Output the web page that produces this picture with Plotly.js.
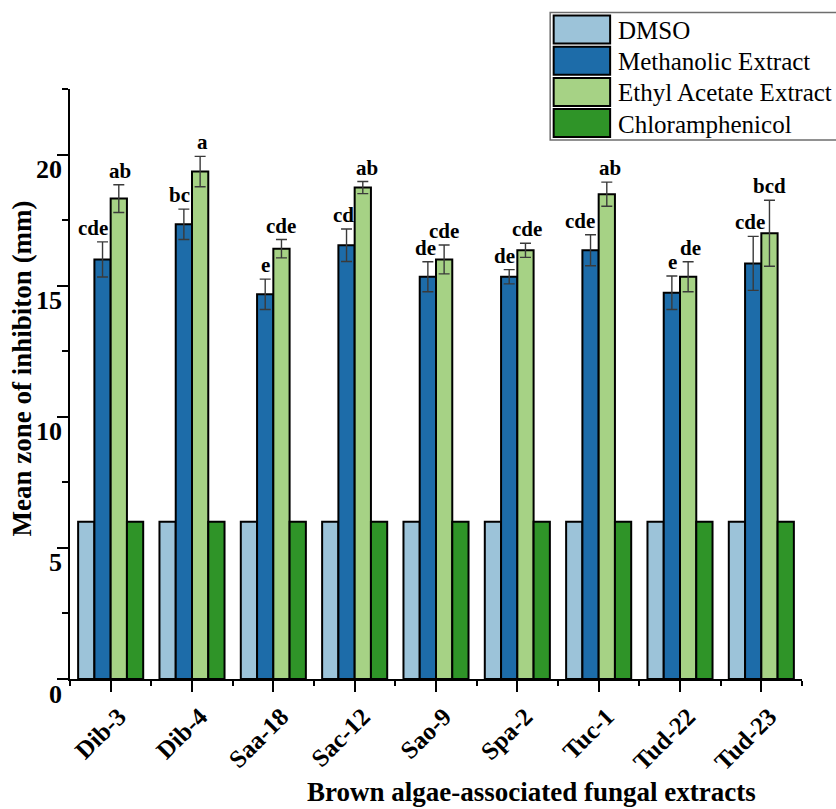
<!DOCTYPE html>
<html>
<head>
<meta charset="utf-8">
<script src="https://cdn.plot.ly/plotly-3.0.1.min.js"></script>
<style>
  html, body { margin: 0; padding: 0; background: #fff; }
  #chart { width: 836px; height: 809px; }
</style>
</head>
<body>
<div id="chart"></div>
<script>
// Fungal isolates
const categories = ['Dib-3', 'Dib-4', 'Saa-18', 'Sac-12', 'Sao-9', 'Spa-2', 'Tuc-1', 'Tud-22', 'Tud-23'];

// Mean zone of inhibition (mm) per treatment
const dmso = [6, 6, 6, 6, 6, 6, 6, 6, 6];
const methanolic = [16.0, 17.34, 14.67, 16.54, 15.34, 15.34, 16.35, 14.73, 15.85];
const methanolicErr = [0.67, 0.58, 0.58, 0.62, 0.57, 0.27, 0.59, 0.64, 1.03];
const ethylAcetate = [18.32, 19.35, 16.41, 18.74, 16.0, 16.35, 18.49, 15.34, 17.0];
const ethylAcetateErr = [0.53, 0.58, 0.35, 0.23, 0.55, 0.27, 0.46, 0.57, 1.26];
const chloramphenicol = [6, 6, 6, 6, 6, 6, 6, 6, 6];

// Significance groups
const methanolicLetters = ['cde', 'bc', 'e', 'cd', 'de', 'de', 'cde', 'e', 'cde'];
const ethylAcetateLetters = ['ab', 'a', 'cde', 'ab', 'cde', 'cde', 'ab', 'de', 'bcd'];

// Y-axis labels
const yTickValues = [0, 5, 10, 15, 20];

const seriesNames = ['DMSO', 'Methanolic Extract', 'Ethyl Acetate Extract', 'Chloramphenicol'];
const seriesColors = ['#9cc3d9', '#1d6ca9', '#a6d285', '#2f9428'];

const serif = 'Liberation Serif, Times New Roman, serif';
const W = 836, H = 809;
const M = { l: 69.5, r: 34, t: 89, b: 129.7 };
const plotW = W - M.l - M.r, plotH = H - M.t - M.b;
const px = v => (v - M.l) / plotW;          // pixel x -> paper x
const py = v => (H - M.b - v) / plotH;      // pixel y -> paper y

const xIdx = categories.map((_, i) => i);

function barTrace(i, values, errs) {
  const t = {
    type: 'bar', name: seriesNames[i], x: xIdx, y: values,
    marker: { color: seriesColors[i], line: { color: '#000', width: 2 } },
    showlegend: false, hoverinfo: 'y'
  };
  if (errs) {
    t.error_y = { type: 'data', array: errs, visible: true, color: '#3a3a3a', thickness: 1.4, width: 5.5 };
  }
  return t;
}

const data = [
  barTrace(0, dmso),
  barTrace(1, methanolic, methanolicErr),
  barTrace(2, ethylAcetate, ethylAcetateErr),
  barTrace(3, chloramphenicol)
];

// Small horizontal nudges so neighbouring letter labels don't collide
const methNudge = [-10, -4, 0, -3, -2, -5, -11, 1, -3];
const ethylNudge = [1, 2, 0, 4, 0, 2, 3, 2, 0];

const annotations = [];
categories.forEach((c, i) => {
  annotations.push({
    x: i - 0.1, y: methanolic[i] + methanolicErr[i], xref: 'x', yref: 'y',
    text: methanolicLetters[i], showarrow: false, yanchor: 'bottom', xanchor: 'center',
    xshift: methNudge[i], yshift: 0,
    font: { family: serif, size: 21, color: '#000', weight: 'bold' }
  });
  annotations.push({
    x: i + 0.1, y: ethylAcetate[i] + ethylAcetateErr[i], xref: 'x', yref: 'y',
    text: ethylAcetateLetters[i], showarrow: false, yanchor: 'bottom', xanchor: 'center',
    xshift: ethylNudge[i], yshift: 0,
    font: { family: serif, size: 21, color: '#000', weight: 'bold' }
  });
});

// Y tick labels sit a little below their ticks
yTickValues.forEach(v => {
  annotations.push({
    xref: 'paper', yref: 'y', x: px(63), y: v, yshift: -15,
    xanchor: 'right', yanchor: 'middle', text: String(v), showarrow: false,
    font: { family: serif, size: 26, color: '#000', weight: 'bold' }
  });
});

// Axis titles
annotations.push({
  xref: 'paper', yref: 'paper', x: px(531), y: py(792), xanchor: 'center', yanchor: 'middle',
  text: 'Brown algae-associated fungal extracts', showarrow: false,
  font: { family: serif, size: 27, color: '#000', weight: 'bold' }
});
annotations.push({
  xref: 'paper', yref: 'paper', x: px(21), y: py(369), xanchor: 'center', yanchor: 'middle',
  text: 'Mean zone of inhibiton (mm)', showarrow: false, textangle: -90,
  font: { family: serif, size: 27, color: '#000', weight: 'bold' }
});

// Legend: framed box with large swatches
const shapes = [{
  type: 'rect', xref: 'paper', yref: 'paper',
  x0: px(550), x1: px(845), y0: py(140), y1: py(12.5),
  line: { color: '#6e6e6e', width: 1.5 }, fillcolor: 'rgba(255,255,255,1)'
}];
const legTop = 15.5, legStep = 31.2, swH = 28;
seriesNames.forEach((name, i) => {
  const y0 = legTop + i * legStep;
  shapes.push({
    type: 'rect', xref: 'paper', yref: 'paper',
    x0: px(553.5), x1: px(610), y0: py(y0 + swH), y1: py(y0),
    line: { color: '#000', width: 2 }, fillcolor: seriesColors[i]
  });
  annotations.push({
    xref: 'paper', yref: 'paper', x: px(616), y: py(y0 + swH / 2 + 1),
    xanchor: 'left', yanchor: 'middle', text: name, showarrow: false,
    font: { family: serif, size: 25, color: '#000' }
  });
});

const layout = {
  width: W, height: H,
  margin: { l: M.l, r: M.r, t: M.t, b: M.b, pad: 0 },
  paper_bgcolor: '#fff', plot_bgcolor: '#fff',
  barmode: 'group', bargap: 0.2, bargroupgap: 0,
  showlegend: false,
  xaxis: {
    range: [-0.5, 8.5], tickmode: 'array', tickvals: xIdx, ticktext: categories,
    tickangle: -45, showgrid: false, zeroline: false,
    showline: true, linecolor: '#000', linewidth: 2,
    ticks: 'outside', ticklen: 11, tickwidth: 2, tickcolor: '#000',
    ticklabelshift: 8, ticklabelstandoff: 0,
    tickfont: { family: serif, size: 25, color: '#000', weight: 'bold' },
    minor: { tickmode: 'linear', tick0: 0.5, dtick: 1, ticks: 'outside', ticklen: 5, tickwidth: 2, tickcolor: '#000', showgrid: false }
  },
  yaxis: {
    range: [0, 22.5], tickmode: 'linear', tick0: 0, dtick: 5,
    showgrid: false, zeroline: false, showticklabels: false,
    showline: true, linecolor: '#000', linewidth: 2,
    ticks: 'outside', ticklen: 11, tickwidth: 2, tickcolor: '#000',
    minor: { tickmode: 'linear', tick0: 0, dtick: 2.5, ticks: 'outside', ticklen: 6, tickwidth: 2, tickcolor: '#000', showgrid: false }
  },
  annotations: annotations,
  shapes: shapes
};

Plotly.newPlot('chart', data, layout, { staticPlot: true, displayModeBar: false });
</script>
</body>
</html>
